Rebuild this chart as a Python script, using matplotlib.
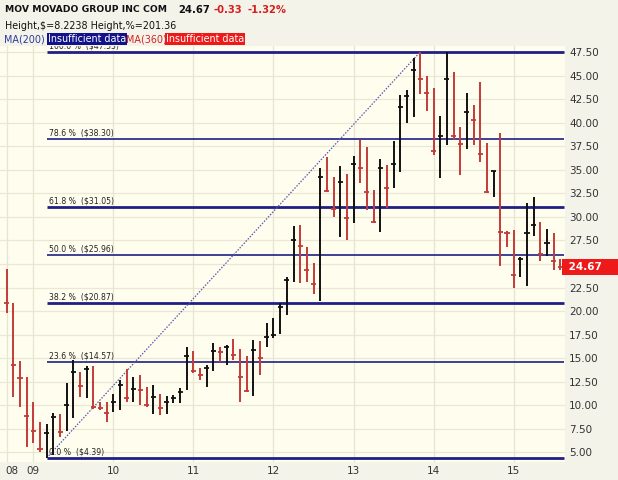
import matplotlib
matplotlib.use("Agg")
import matplotlib.pyplot as plt
import matplotlib.transforms as mtransforms

# monthly bars, Sep 2008 .. Aug 2015 (index 0 = Sep 2008)
highs = [24.44, 20.89, 14.73, 12.96, 10.37, 8.24, 7.99, 9.13, 9.06, 12.32,
         14.80, 13.56, 14.16, 14.16, 10.37, 10.37, 11.19, 12.67, 13.84, 13.03,
         13.20, 11.96, 12.14, 11.19, 10.97, 11.08, 11.79, 16.15, 15.79, 13.92,
         14.27, 16.57, 16.15, 16.39, 16.99, 15.97, 15.22, 16.92, 16.85, 18.76,
         19.23, 20.82, 23.65, 29.04, 29.15, 26.84, 25.08, 35.17, 36.40, 34.21,
         35.42, 34.53, 36.51, 38.18, 37.47, 32.86, 36.13, 35.52, 38.10, 42.96,
         43.49, 46.86, 47.53, 45.01, 43.74, 40.73, 47.50, 45.37, 39.60, 43.21,
         41.90, 44.31, 37.89, 34.92, 38.95, 28.54, 28.61, 25.78, 31.45, 32.09,
         29.50, 28.72, 28.26, 25.50]
lows = [19.80, 10.90, 9.77, 5.52, 6.01, 5.06, 4.39, 4.70, 6.65, 7.29,
        8.60, 10.84, 10.73, 9.56, 9.49, 8.18, 9.31, 9.49, 10.37, 10.37,
        10.02, 9.84, 9.06, 8.95, 9.06, 10.20, 10.20, 11.61, 13.45, 12.67,
        11.96, 13.66, 14.62, 14.27, 14.80, 10.37, 11.43, 10.97, 13.20, 16.15,
        17.10, 17.60, 19.58, 23.12, 23.02, 23.12, 21.81, 21.10, 32.60, 30.03,
        27.90, 27.55, 29.33, 33.58, 30.74, 29.39, 28.43, 30.92, 33.11, 34.81,
        40.02, 40.65, 43.03, 41.26, 36.58, 34.11, 37.65, 38.18, 34.46, 37.19,
        37.65, 35.88, 32.58, 32.09, 24.82, 26.77, 22.48, 23.59, 22.66, 27.98,
        25.35, 25.85, 24.36, 24.36]
closes = [20.89, 14.27, 12.85, 8.85, 7.29, 5.34, 7.08, 8.77, 7.18, 9.98,
          13.56, 12.07, 13.81, 9.84, 9.75, 9.13, 10.37, 12.14, 10.73, 11.69,
          11.61, 10.02, 10.84, 9.66, 10.37, 10.73, 11.43, 15.26, 13.66, 13.20,
          13.92, 15.75, 15.68, 16.21, 15.33, 13.03, 11.54, 15.86, 14.98, 17.28,
          17.46, 20.40, 23.30, 27.55, 26.91, 24.36, 22.84, 34.21, 32.76, 30.85,
          33.75, 29.92, 35.63, 35.17, 32.68, 29.50, 35.24, 33.11, 35.63, 41.65,
          42.85, 45.62, 44.63, 43.14, 37.01, 38.60, 44.66, 38.60, 37.75, 41.19,
          40.30, 36.69, 32.68, 34.88, 28.43, 28.26, 23.83, 25.50, 28.33, 29.14,
          26.06, 27.26, 25.35, 24.67]

year_labels = ["08", "09", "10", "11", "12", "13", "14", "15"]
year_pos = [0.8, 4, 16, 28, 40, 52, 64, 76]
year_grid = [0, 4, 16, 28, 40, 52, 64, 76]

fib_pct = [100.0, 78.6, 61.8, 50.0, 38.2, 23.6, 0.0]
fib_val = [47.53, 38.30, 31.05, 25.96, 20.87, 14.57, 4.39]
fib_lw = [2.0, 1.2, 2.0, 1.2, 2.0, 1.2, 2.0]
low_idx, high_idx = 6, 62

yticks = [5.0 + 2.5 * i for i in range(18)]
last_price = closes[-1]

W, H = 618, 480
fig = plt.figure(figsize=(W / 100, H / 100), dpi=100, facecolor="#F4F3EA")
ax = fig.add_axes([0.0, 1 - 462 / H, 565 / W, (462 - 46) / H])
ax.set_facecolor("#FFFEEE")
ax.set_xlim(-1.0, 83.7)
ax.set_ylim(3.96, 48.16)
for s in ax.spines.values():
    s.set_visible(False)

ax.yaxis.tick_right()
ax.set_yticks(yticks)
# the 25.00 label sits under the last-price box
ax.set_yticklabels(["" if v == 25.0 else "%.2f" % v for v in yticks],
                   fontsize=7.5, color="#333333")
ax.set_xticks(year_pos)
ax.set_xticklabels(year_labels, fontsize=7.5, color="#333333")
ax.tick_params(length=0, pad=3)

for v in yticks:
    ax.axhline(v, color="#E9E7D6", lw=0.9, zorder=0)
for g in year_grid:
    ax.axvline(g, color="#E6E4D2", lw=0.9, zorder=0)

# fibonacci levels
for p, v, lw in zip(fib_pct, fib_val, fib_lw):
    ax.hlines(v, low_idx, 83.5, color="#1F1F85", lw=lw, zorder=2)
    ax.text(low_idx + 0.4, v + 0.15, "%.1f %%  ($%.2f)" % (p, v), fontsize=5.6,
            color="#222222", va="bottom", ha="left", zorder=2, clip_on=True)

ax.plot([low_idx, high_idx], [fib_val[-1], fib_val[0]], linestyle=(0, (1.2, 1.2)),
        color="#5858B0", lw=0.9, zorder=2)

# HLC bars
xs = list(range(len(closes)))
cols = []
for i in xs:
    if i == 0 or closes[i] < closes[i - 1]:
        cols.append("#C23B3B")
    else:
        cols.append("#111111")
ax.vlines(xs, lows, highs, colors=cols, lw=1.4, zorder=3)
ax.hlines(closes, [x - 0.38 for x in xs], [x + 0.38 for x in xs], colors=cols, lw=1.3, zorder=3)

# last price box
trans = mtransforms.blended_transform_factory(ax.transAxes, ax.transData)
ax.text(1.0, last_price, " %.2f    " % last_price, transform=trans, fontsize=7.5,
        fontweight="bold", color="white", va="center", ha="left", clip_on=False, zorder=5,
        bbox=dict(boxstyle="square,pad=0.25", fc="#EE1A1A", ec="none"))

# header
def ftext(x, y, s, **kw):
    fig.text(x / W, 1 - y / H, s, va="center", ha="left", **kw)

ftext(5, 10, "MOV MOVADO GROUP INC COM", fontsize=6.7, fontweight="bold", color="#111111")
ftext(178, 10, "24.67", fontsize=7.2, fontweight="bold", color="#111111")
ftext(213, 10, "-0.33", fontsize=7.2, fontweight="bold", color="#D42020")
ftext(247, 10, "-1.32%", fontsize=7.2, fontweight="bold", color="#D42020")
ftext(5, 26, "Height,$=8.2238 Height,%=201.36", fontsize=6.9, color="#111111")
ftext(4, 39, "MA(200)", fontsize=6.9, color="#2A3A9A")
ftext(48, 39, "Insufficient data", fontsize=6.9, color="white",
      bbox=dict(boxstyle="square,pad=0.1", fc="#12128C", ec="none"))
ftext(126, 39, "MA(360)", fontsize=6.9, color="#D42020")
ftext(166, 39, "Insufficient data", fontsize=6.9, color="white",
      bbox=dict(boxstyle="square,pad=0.1", fc="#EE1A1A", ec="none"))

fig.savefig("out.png", dpi=100, facecolor=fig.get_facecolor())
